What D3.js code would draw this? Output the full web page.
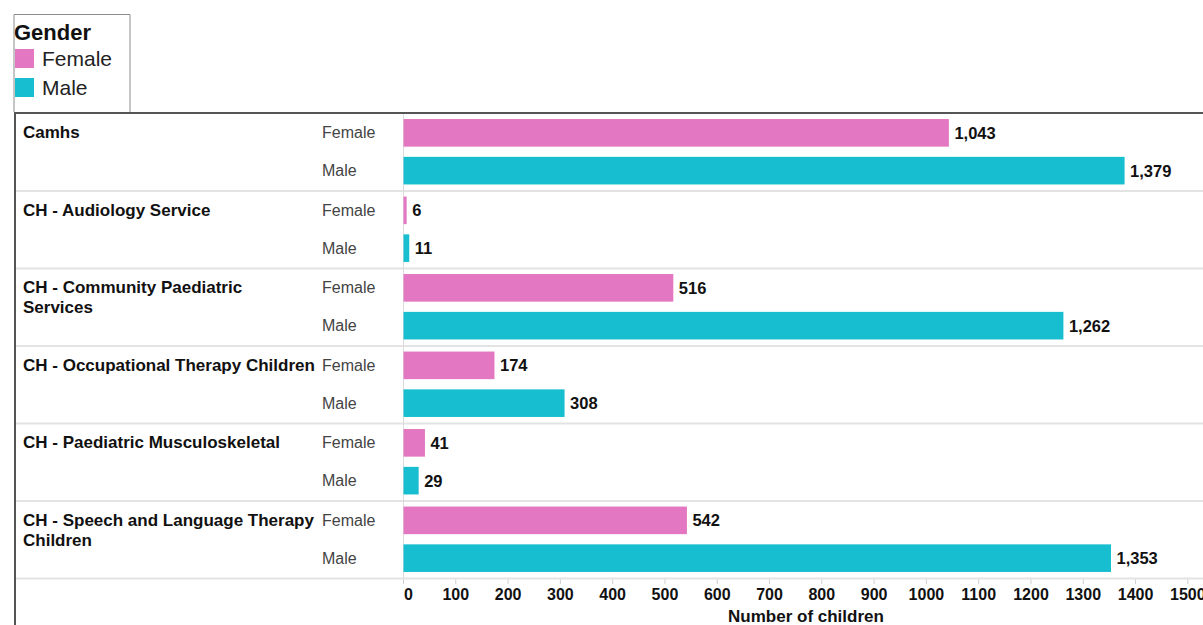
<!DOCTYPE html>
<html>
<head>
<meta charset="utf-8">
<script src="https://cdn.jsdelivr.net/npm/d3@7"></script>
<style>
  html, body { margin: 0; padding: 0; background: #fff; }
  svg { display: block; font-family: "Liberation Sans", Arial, sans-serif; }
</style>
</head>
<body>
<svg id="chart" width="1203" height="625"></svg>
<script>
// Services, in display order
const services = [
  "Camhs",
  "CH - Audiology Service",
  "CH - Community Paediatric Services",
  "CH - Occupational Therapy Children",
  "CH - Paediatric Musculoskeletal",
  "CH - Speech and Language Therapy Children"
];
// How each service name wraps in the row header
const serviceLines = [
  ["Camhs"],
  ["CH - Audiology Service"],
  ["CH - Community Paediatric", "Services"],
  ["CH - Occupational Therapy Children"],
  ["CH - Paediatric Musculoskeletal"],
  ["CH - Speech and Language Therapy", "Children"]
];
const genders = ["Female", "Male"];
const femaleCounts = [1043, 6, 516, 174, 41, 542];
const maleCounts = [1379, 11, 1262, 308, 29, 1353];
const xTicks = [0, 100, 200, 300, 400, 500, 600, 700, 800, 900, 1000, 1100, 1200, 1300, 1400, 1500];

const colors = { Female: "#e377c2", Male: "#17becf" };

const rows = [];
services.forEach((s, i) => {
  rows.push({ service: s, gender: "Female", value: femaleCounts[i] });
  rows.push({ service: s, gender: "Male", value: maleCounts[i] });
});

const svg = d3.select("#chart");
const W = 1203;
const frameLeft = 15, frameTop = 113, plotBottom = 578;

const x = d3.scaleLinear().domain([0, 1500]).range([403, 403 + 1500 * 0.5229]);
const yService = d3.scaleBand().domain(services).range([frameTop, plotBottom]).padding(0);
const yGender = d3.scaleBand().domain(genders).range([0, yService.bandwidth()])
  .paddingInner(0.27).paddingOuter(0.16);

// Legend
const legend = svg.append("g");
legend.append("path")
  .attr("d", `M14,112 V14.5 H130 V112`)
  .attr("fill", "none").attr("stroke", "#8c8c8c").attr("stroke-width", 1);
legend.append("text").attr("x", 14).attr("y", 40)
  .attr("font-size", 22).attr("font-weight", "bold").attr("fill", "#111").text("Gender");
genders.forEach((g, i) => {
  legend.append("rect").attr("x", 15).attr("y", 49 + i * 29).attr("width", 19).attr("height", 19)
    .attr("fill", colors[g]);
  legend.append("text").attr("x", 42).attr("y", 66 + i * 29)
    .attr("font-size", 21).attr("fill", "#222").text(g);
});

// Row separators
svg.append("g").selectAll("line")
  .data(services.slice(1))
  .join("line")
  .attr("x1", frameLeft).attr("x2", W)
  .attr("y1", d => yService(d) + 0.5).attr("y2", d => yService(d) + 0.5)
  .attr("stroke", "#e3e3e3").attr("stroke-width", 2);

// Zero line
svg.append("line")
  .attr("x1", x(0) + 0.5).attr("x2", x(0) + 0.5)
  .attr("y1", frameTop).attr("y2", plotBottom + 6)
  .attr("stroke", "#dcdcdc").attr("stroke-width", 1);

// Bars
svg.append("g").selectAll("rect")
  .data(rows)
  .join("rect")
  .attr("x", x(0) + 0.5)
  .attr("y", d => yService(d.service) + yGender(d.gender))
  .attr("width", d => x(d.value) - x(0))
  .attr("height", yGender.bandwidth())
  .attr("fill", d => colors[d.gender]);

// Value labels
const fmt = d3.format(",");
svg.append("g").selectAll("text")
  .data(rows)
  .join("text")
  .attr("x", d => x(d.value) + 6)
  .attr("y", d => yService(d.service) + yGender(d.gender) + yGender.bandwidth() / 2 + 6)
  .attr("font-size", 16.5).attr("font-weight", "bold").attr("fill", "#111")
  .text(d => fmt(d.value));

// Gender sub-labels
svg.append("g").selectAll("text")
  .data(rows)
  .join("text")
  .attr("x", 322)
  .attr("y", d => yService(d.service) + yGender(d.gender) + yGender.bandwidth() / 2 + 5.5)
  .attr("font-size", 16).attr("fill", "#444")
  .text(d => d.gender);

// Service headers
const headers = svg.append("g").selectAll("text")
  .data(services)
  .join("text")
  .attr("x", 23)
  .attr("y", d => yService(d) + yGender("Female") + yGender.bandwidth() / 2 + 5.5)
  .attr("font-size", 17).attr("font-weight", "bold").attr("fill", "#111");
headers.selectAll("tspan")
  .data((d, i) => serviceLines[i])
  .join("tspan")
  .attr("x", 23)
  .attr("dy", (d, i) => i === 0 ? 0 : 20)
  .text(d => d);

// X axis
const xAxis = d3.axisBottom(x).tickValues(xTicks).tickSize(6).tickSizeOuter(0).tickFormat(d3.format("d"));
const axisG = svg.append("g").attr("transform", `translate(0,${plotBottom})`).call(xAxis);
axisG.select(".domain").remove();
axisG.selectAll(".tick line").attr("stroke", "#cfcfcf");
axisG.selectAll(".tick text")
  .attr("font-size", 16).attr("font-weight", "bold").attr("fill", "#111")
  .attr("font-family", "'Liberation Sans', Arial, sans-serif")
  .attr("y", 11);
axisG.selectAll(".tick").filter(d => d === 0).select("text").attr("dx", 5);

// Bottom rule of the last row
svg.append("line")
  .attr("x1", frameLeft).attr("x2", W)
  .attr("y1", plotBottom + 0.5).attr("y2", plotBottom + 0.5)
  .attr("stroke", "#e3e3e3").attr("stroke-width", 2);

svg.append("text")
  .attr("x", 806).attr("y", 622)
  .attr("text-anchor", "middle")
  .attr("font-size", 17).attr("font-weight", "bold").attr("fill", "#111")
  .text("Number of children");

// Frame: top and left rules
svg.append("path")
  .attr("d", `M${frameLeft},625 V${frameTop} H${W}`)
  .attr("fill", "none").attr("stroke", "#555").attr("stroke-width", 2);
</script>
</body>
</html>
